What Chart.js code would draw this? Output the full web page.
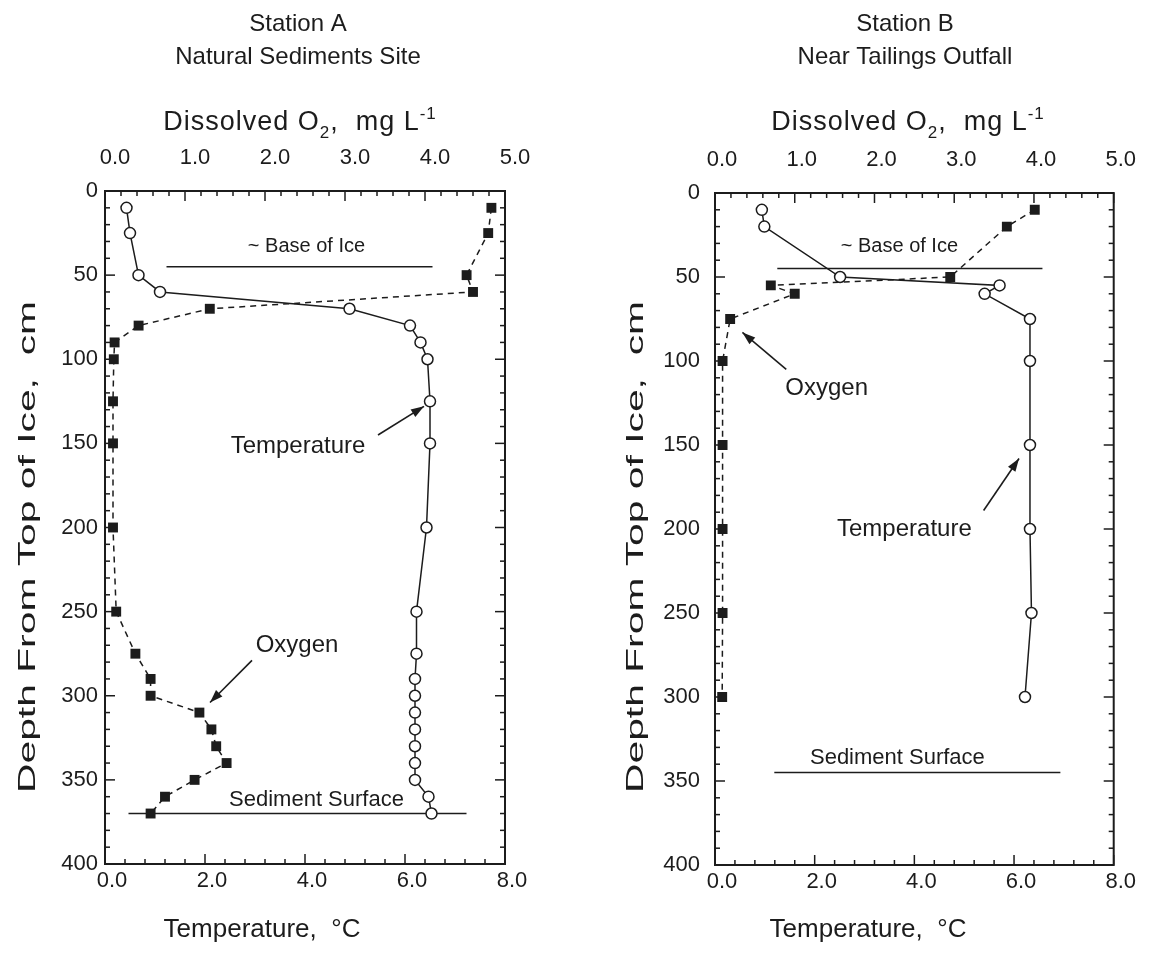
<!DOCTYPE html>
<html>
<head>
<meta charset="utf-8">
<title>Station A / Station B profiles</title>
<script src="https://cdn.jsdelivr.net/npm/chart.js@4.4.1/dist/chart.umd.min.js"></script>
<style>
  html, body { margin: 0; padding: 0; background: #fff; }
  #wrap { position: relative; width: 1149px; height: 957px; }
  canvas { position: absolute; top: 0; }
  #chartA { left: 0; }
  #chartB { left: 574px; }
</style>
</head>
<body>
<div id="wrap">
  <canvas id="chartA" width="574" height="957"></canvas>
  <canvas id="chartB" width="575" height="957"></canvas>
</div>
<script>
// ---- data ----
// Station A (same depths for both profiles)
const depthA = [10, 25, 50, 60, 70, 80, 90, 100, 125, 150, 200, 250, 275, 290, 300, 310, 320, 330, 340, 350, 360, 370];
const tempA  = [0.43, 0.5, 0.67, 1.1, 4.89, 6.1, 6.31, 6.45, 6.5, 6.5, 6.43, 6.23, 6.23, 6.2, 6.2, 6.2, 6.2, 6.2, 6.2, 6.2, 6.47, 6.53];
const oxyA   = [4.83, 4.79, 4.52, 4.6, 1.31, 0.42, 0.12, 0.11, 0.1, 0.1, 0.1, 0.14, 0.38, 0.57, 0.57, 1.18, 1.33, 1.39, 1.52, 1.12, 0.75, 0.57];

// Station B
const depthB = [10, 20, 50, 55, 60, 75, 100, 150, 200, 250, 300];
const tempB  = [0.94, 0.99, 2.51, 5.71, 5.41, 6.32, 6.32, 6.32, 6.32, 6.35, 6.22];
const oxyB   = [4.01, 3.66, 2.95, 0.7, 1.0, 0.19, 0.095, 0.095, 0.095, 0.095, 0.09];

// reference lines: depth and temperature extent
const iceDepthA = 45, iceSpanA = [1.23, 6.55];
const sedDepthA = 370, sedSpanA = [0.47, 7.23];
const iceDepthB = 45, iceSpanB = [1.25, 6.57];
const sedDepthB = 345, sedSpanB = [1.19, 6.93];

// axis ticks
const tempTicks  = [0, 2, 4, 6, 8];
const oxyTicks   = [0, 1, 2, 3, 4, 5];
const depthTicks = [0, 50, 100, 150, 200, 250, 300, 350, 400];

const INK = '#1c1c1c';
const FONT = '"Liberation Sans", Arial, Helvetica, sans-serif';

function pts(xs, ys) { return xs.map((x, i) => ({ x: x, y: ys[i] })); }

function line(ctx, x1, y1, x2, y2) {
  ctx.beginPath(); ctx.moveTo(x1, y1); ctx.lineTo(x2, y2); ctx.stroke();
}

function arrow(ctx, x1, y1, x2, y2) {
  line(ctx, x1, y1, x2, y2);
  const a = Math.atan2(y2 - y1, x2 - x1), L = 13, W = 4.5;
  ctx.beginPath();
  ctx.moveTo(x2, y2);
  ctx.lineTo(x2 - L * Math.cos(a) + W * Math.sin(a), y2 - L * Math.sin(a) - W * Math.cos(a));
  ctx.lineTo(x2 - L * Math.cos(a) - W * Math.sin(a), y2 - L * Math.sin(a) + W * Math.cos(a));
  ctx.closePath(); ctx.fill();
}

// frame with inward major/minor ticks on all four sides
const frameTicks = {
  id: 'frameTicks',
  afterDatasetsDraw(chart) {
    const { ctx, chartArea: a, scales } = chart;
    ctx.save();
    ctx.strokeStyle = INK;
    ctx.lineWidth = 2;
    ctx.strokeRect(a.left, a.top, a.right - a.left, a.bottom - a.top);
    ctx.lineWidth = 1.5;
    for (let d = 0; d <= 400; d += 10) {
      const y = scales.y.getPixelForValue(d);
      const len = d % 50 === 0 ? 10 : 5;
      line(ctx, a.left, y, a.left + len, y);
      line(ctx, a.right, y, a.right - len, y);
    }
    for (let i = 0; i <= 25; i++) {
      const x = scales.x2.getPixelForValue(i * 0.2);
      line(ctx, x, a.top, x, a.top + (i % 5 === 0 ? 10 : 5));
    }
    for (let i = 0; i <= 20; i++) {
      const x = scales.x.getPixelForValue(i * 0.4);
      line(ctx, x, a.bottom, x, a.bottom - (i % 5 === 0 ? 10 : 5));
    }
    ctx.restore();
  }
};

// titles, axis titles, labels and arrows
const decor = {
  id: 'decor',
  afterDraw(chart, args, o) {
    const { ctx, scales } = chart;
    ctx.save();
    ctx.fillStyle = INK;
    ctx.strokeStyle = INK;
    ctx.textAlign = 'center';
    ctx.textBaseline = 'middle';

    ctx.font = '24px ' + FONT;
    o.title.forEach((t, i) => ctx.fillText(t, o.titleX, 24 + i * 33));

    // Dissolved O2, mg L-1
    const parts = [['Dissolved O', 27, 0], ['2', 17, 8], [',  mg L', 27, 0], ['-1', 17, -11]];
    ctx.letterSpacing = '1px';
    let w = 0;
    parts.forEach(p => { ctx.font = p[1] + 'px ' + FONT; w += ctx.measureText(p[0]).width; });
    let cx = o.topTitleX - w / 2;
    ctx.textAlign = 'left';
    ctx.textBaseline = 'alphabetic';
    parts.forEach(p => {
      ctx.font = p[1] + 'px ' + FONT;
      ctx.fillText(p[0], cx, 130 + p[2]);
      cx += ctx.measureText(p[0]).width;
    });
    ctx.letterSpacing = '0px';

    ctx.textAlign = 'center';
    ctx.textBaseline = 'middle';
    ctx.font = '26px ' + FONT;
    ctx.fillText('Temperature,  \u00B0C', o.bottomTitleX, 930);

    ctx.save();
    ctx.translate(o.yTitleX, 547);
    ctx.rotate(-Math.PI / 2);
    ctx.scale(1.7, 1);
    ctx.font = '24px ' + FONT;
    ctx.fillText('Depth From Top of Ice,  cm', 0, 0);
    ctx.restore();

    o.labels.forEach(l => {
      ctx.font = l.size + 'px ' + FONT;
      ctx.fillText(l.text, scales.x.getPixelForValue(l.x), scales.y.getPixelForValue(l.y));
    });
    ctx.lineWidth = 1.6;
    o.arrows.forEach(r => arrow(ctx,
      scales.x.getPixelForValue(r[0]), scales.y.getPixelForValue(r[1]),
      scales.x.getPixelForValue(r[2]), scales.y.getPixelForValue(r[3])));
    ctx.restore();
  }
};

function makeChart(id, s) {
  const tickFont = { family: FONT, size: 22 };
  return new Chart(document.getElementById(id), {
    type: 'scatter',
    data: {
      datasets: [
        {
          label: 'Temperature', data: pts(s.temp, s.depth), xAxisID: 'x',
          showLine: true, borderColor: INK, borderWidth: 1.5,
          pointStyle: 'circle', pointRadius: 5.5, pointBackgroundColor: '#fff',
          pointBorderColor: INK, pointBorderWidth: 1.5
        },
        {
          label: 'Oxygen', data: pts(s.oxy, s.depth), xAxisID: 'x2',
          showLine: true, borderColor: INK, borderWidth: 1.5, borderDash: [6, 5],
          pointStyle: 'rect', pointRadius: 7, pointBackgroundColor: INK,
          pointBorderColor: INK, pointBorderWidth: 0
        },
        {
          label: 'Base of Ice', data: pts(s.iceSpan, [s.iceDepth, s.iceDepth]), xAxisID: 'x',
          showLine: true, borderColor: INK, borderWidth: 1.5, pointRadius: 0
        },
        {
          label: 'Sediment Surface', data: pts(s.sedSpan, [s.sedDepth, s.sedDepth]), xAxisID: 'x',
          showLine: true, borderColor: INK, borderWidth: 1.5, pointRadius: 0
        }
      ]
    },
    options: {
      responsive: false,
      animation: false,
      events: [],
      layout: { padding: { left: 0, top: 0, bottom: 0, right: s.padRight } },
      plugins: {
        legend: { display: false },
        tooltip: { enabled: false },
        decor: s.decor
      },
      scales: {
        x: {
          type: 'linear', position: 'bottom', min: 0, max: 8,
          grid: { display: false, drawTicks: false }, border: { display: false },
          afterBuildTicks: sc => { sc.ticks = tempTicks.map(v => ({ value: v })); },
          afterFit: sc => { sc.height = s.bottomH; },
          ticks: { font: tickFont, color: INK, padding: 4, autoSkip: false, maxRotation: 0,
                   labelOffset: 7, callback: v => v.toFixed(1) }
        },
        x2: {
          type: 'linear', position: 'top', min: 0, max: 5,
          grid: { display: false, drawTicks: false }, border: { display: false },
          afterBuildTicks: sc => { sc.ticks = oxyTicks.map(v => ({ value: v })); },
          afterFit: sc => { sc.height = s.topH; },
          ticks: { font: tickFont, color: INK, padding: 20, autoSkip: false, maxRotation: 0,
                   labelOffset: s.topShift, callback: v => v.toFixed(1) }
        },
        y: {
          type: 'linear', reverse: true, min: 0, max: 400,
          grid: { display: false, drawTicks: false }, border: { display: false },
          afterBuildTicks: sc => { sc.ticks = depthTicks.map(v => ({ value: v })); },
          afterFit: sc => { sc.width = s.yWidth; },
          ticks: { font: tickFont, color: INK, padding: s.yPad, autoSkip: false,
                   callback: v => String(v) }
        }
      }
    },
    plugins: [frameTicks, decor]
  });
}

makeChart('chartA', {
  depth: depthA, temp: tempA, oxy: oxyA,
  iceDepth: iceDepthA, iceSpan: iceSpanA, sedDepth: sedDepthA, sedSpan: sedSpanA,
  yWidth: 105, padRight: 69, topH: 191, bottomH: 93, yPad: 7, topShift: 10,
  decor: {
    title: ['Station A', 'Natural Sediments Site'], titleX: 298, topTitleX: 300,
    bottomTitleX: 262, yTitleX: 28,
    labels: [
      { text: '~ Base of Ice', x: 4.03, y: 33, size: 20 },
      { text: 'Sediment Surface', x: 4.23, y: 362, size: 22 },
      { text: 'Temperature', x: 3.86, y: 152, size: 24 },
      { text: 'Oxygen', x: 3.84, y: 270, size: 24 }
    ],
    arrows: [[5.46, 145, 6.38, 128], [2.94, 279, 2.1, 304]]
  }
});

makeChart('chartB', {
  depth: depthB, temp: tempB, oxy: oxyB,
  iceDepth: iceDepthB, iceSpan: iceSpanB, sedDepth: sedDepthB, sedSpan: sedSpanB,
  yWidth: 141, padRight: 30, topH: 193, bottomH: 92, yPad: 15, topShift: 7,
  decor: {
    title: ['Station B', 'Near Tailings Outfall'], titleX: 331, topTitleX: 334,
    bottomTitleX: 294, yTitleX: 62,
    labels: [
      { text: '~ Base of Ice', x: 3.70, y: 32, size: 20 },
      { text: 'Sediment Surface', x: 3.66, y: 336, size: 22 },
      { text: 'Oxygen', x: 2.24, y: 116, size: 24 },
      { text: 'Temperature', x: 3.80, y: 200, size: 24 }
    ],
    arrows: [[1.43, 105, 0.55, 83], [5.39, 189, 6.10, 158]]
  }
});
</script>
</body>
</html>
